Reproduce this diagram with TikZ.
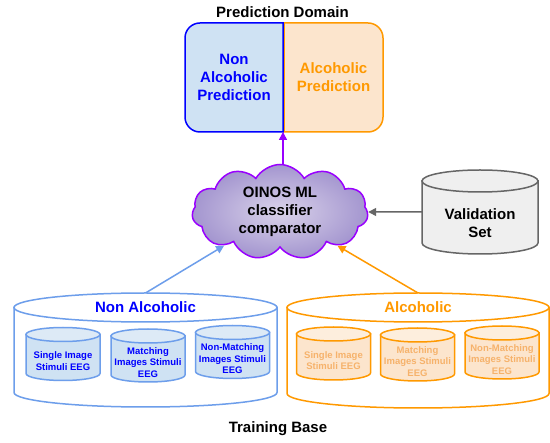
\documentclass[tikz,border=0pt]{standalone}
\usepackage{fontspec}
\setmainfont{Liberation Sans}
\usetikzlibrary{shapes.symbols,arrows.meta}
\pgfdeclarelayer{background}
\pgfsetlayers{background,main}
\definecolor{pcFFFFFF}{HTML}{FFFFFF}
\definecolor{pc000000}{HTML}{000000}
\definecolor{pc0000FF}{HTML}{0000FF}
\definecolor{pcCFE2F3}{HTML}{CFE2F3}
\definecolor{pcDDEAF6}{HTML}{DDEAF6}
\definecolor{pc6D9EEB}{HTML}{6D9EEB}
\definecolor{pcFF9900}{HTML}{FF9900}
\definecolor{pcFCE5CD}{HTML}{FCE5CD}
\definecolor{pcFDEEDD}{HTML}{FDEEDD}
\definecolor{pcF6B26B}{HTML}{F6B26B}
\definecolor{pc9900FF}{HTML}{9900FF}
\definecolor{pcDAD3EA}{HTML}{DAD3EA}
\definecolor{pcA395CF}{HTML}{A395CF}
\definecolor{pc666666}{HTML}{666666}
\definecolor{pcEFEFEF}{HTML}{EFEFEF}

% database drum around the body of node #1: half width #2, cap radius #3,
% border #4, side fill #5, top fill #6
\newcommand{\dbcyl}[6]{%
\path[line width=1.5bp, draw=#4, fill=#5] ([yshift=#3]#1.north west) -- ([yshift=#3]#1.south west)
  arc[start angle=180, end angle=360, x radius=#2, y radius=#3] -- ([yshift=#3]#1.north east) -- cycle;
\path[line width=1.5bp, draw=#4, fill=#6] ([yshift=#3]#1.north) ellipse[x radius=#2, y radius=#3];
}

\begin{document}
\begin{tikzpicture}[
  line width=1.5bp,
  txt/.style={font=\bfseries\fontsize{15bp}{18bp}\selectfont, align=center, inner sep=0},
  small/.style={font=\bfseries\fontsize{9.5bp}{11.5bp}\selectfont, align=center, inner sep=0},
  body/.style={minimum width=74bp, minimum height=39bp, inner sep=0, outer sep=0},
  tip/.style={line width=1.5bp, -{Triangle[length=8bp,width=8bp]}},
]
\path[use as bounding box] (0bp,0bp) rectangle (550bp,443bp);

% prediction domain
\node[txt] (domain) at (282.5bp,431bp) {Prediction Domain};
\node[minimum width=98bp, minimum height=109bp, inner sep=0, outer sep=0] (nonpred) at (234bp,365.5bp) {};
\node[minimum width=99bp, minimum height=109bp, inner sep=0, outer sep=0] (alcpred) at (333.5bp,365.5bp) {};
\path[line width=1.5bp, fill=pcFCE5CD, draw=pcFF9900] (alcpred.north west) -- ++(84bp,0bp) arc[start angle=90, end angle=0, radius=15bp]
  -- ++(0bp,-79bp) arc[start angle=0, end angle=-90, radius=15bp] -- (alcpred.south west) -- cycle;
\path[line width=1.5bp, fill=pcCFE2F3, draw=pc0000FF] (nonpred.north east) -- ++(-83bp,0bp) arc[start angle=90, end angle=180, radius=15bp]
  -- ++(0bp,-79bp) arc[start angle=180, end angle=270, radius=15bp] -- (nonpred.south east) -- cycle;
\node[txt, text=pc0000FF] (nonpredtxt) at (nonpred) {Non\\Alcoholic\\Prediction};
\node[txt, text=pcFF9900] (alcpredtxt) at (alcpred) {Alcoholic\\Prediction};

% classifier and validation set
\node[cloud, cloud puffs=11, cloud puff arc=120, aspect=1.85, minimum width=176bp, minimum height=95bp, line width=1.5bp,
  draw=pc9900FF, shading=radial, inner color=pcDAD3EA, outer color=pcA395CF, txt] (oinos) at (280bp,231bp) {OINOS ML\\classifier\\comparator};
\node[txt, minimum width=116bp, minimum height=62bp, outer sep=0] (valset) at (480bp,220bp) {Validation\\Set};

% training base
\node[minimum width=263bp, minimum height=85bp, inner sep=0, outer sep=0] (nonalc) at (145.5bp,78.5bp) {};
\node[minimum width=262bp, minimum height=86bp, inner sep=0, outer sep=0] (alc) at (418bp,78bp) {};
\node[txt, text=pc0000FF] (nonalclabel) at ([yshift=14.5bp]nonalc.north) {Non Alcoholic};
\node[txt, text=pcFF9900] (alclabel) at ([yshift=14.5bp]alc.north) {Alcoholic};
\coordinate (nonalctop) at ([yshift=29bp]nonalc.north);
\coordinate (alctop) at ([yshift=29bp]alc.north);

\node[body, small, text=pc0000FF] (nonsingle) at (63bp,82bp) {Single Image\\Stimuli EEG};
\node[body, small, text=pc0000FF] (nonmatch) at (148bp,80.5bp) {Matching\\Images Stimuli\\EEG};
\node[body, small, text=pc0000FF] (nonnomatch) at (232.5bp,84bp) {Non-Matching\\Images Stimuli\\EEG};
\node[body, small, text=pcF6B26B] (alcsingle) at (333.5bp,82.5bp) {Single Image\\Stimuli EEG};
\node[body, small, text=pcF6B26B] (alcmatch) at (417.5bp,81.5bp) {Matching\\Images Stimuli\\EEG};
\node[body, small, text=pcF6B26B] (alcnomatch) at (502bp,83.5bp) {Non-Matching\\Images Stimuli\\EEG};

\node[txt] (training) at (278bp,14bp) {Training Base};

\begin{pgfonlayer}{background}
\path[fill=pcFFFFFF] (0bp,0bp) rectangle (550bp,443bp);
\dbcyl{valset}{58bp}{11bp}{pc666666}{pcEFEFEF}{pcEFEFEF}
\dbcyl{nonalc}{131.5bp}{14.5bp}{pc6D9EEB}{pcFFFFFF}{pcFFFFFF}
\dbcyl{alc}{131bp}{14.5bp}{pcFF9900}{pcFFFFFF}{pcFFFFFF}
\dbcyl{nonsingle}{37bp}{7bp}{pc6D9EEB}{pcCFE2F3}{pcDDEAF6}
\dbcyl{nonmatch}{37bp}{7bp}{pc6D9EEB}{pcCFE2F3}{pcDDEAF6}
\dbcyl{nonnomatch}{37bp}{7bp}{pc6D9EEB}{pcCFE2F3}{pcDDEAF6}
\dbcyl{alcsingle}{37bp}{7bp}{pcFF9900}{pcFCE5CD}{pcFDEEDD}
\dbcyl{alcmatch}{37bp}{7bp}{pcFF9900}{pcFCE5CD}{pcFDEEDD}
\dbcyl{alcnomatch}{37bp}{7bp}{pcFF9900}{pcFCE5CD}{pcFDEEDD}
\end{pgfonlayer}

% connectors
\draw[tip, pc9900FF] (nonpred.south east |- oinos.north) -- (nonpred.south east);
\draw[tip, pc666666] (valset.west |- oinos) -- (oinos);
\draw[tip, pc6D9EEB] (nonalctop) -- (oinos);
\draw[tip, pcFF9900] (alctop) -- (oinos);
\end{tikzpicture}
\end{document}
